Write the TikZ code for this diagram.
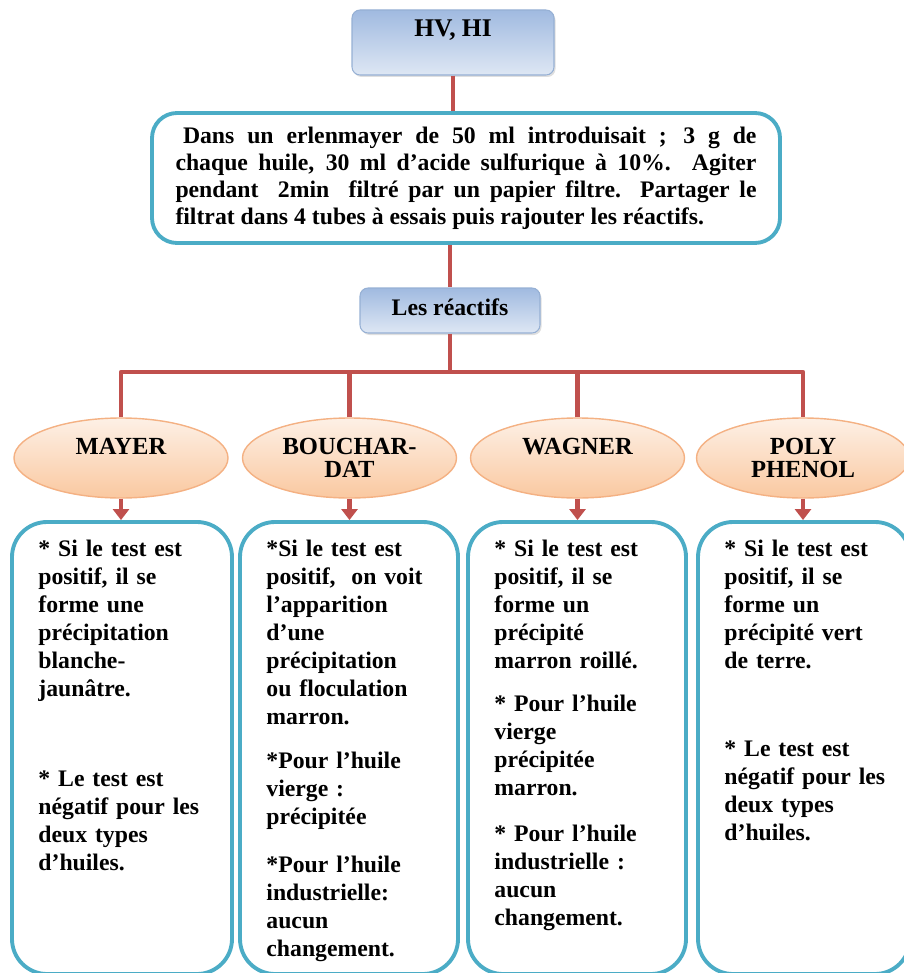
\documentclass[tikz,border=0pt]{standalone}
\usepackage{fontspec}
\setmainfont{Liberation Serif}
\usetikzlibrary{shapes.geometric,arrows.meta,shadows,positioning}

\definecolor{linkred}{RGB}{192,80,77}
\definecolor{boxteal}{RGB}{75,172,198}
\definecolor{bluetop}{RGB}{160,186,224}
\definecolor{bluebot}{RGB}{222,231,244}
\definecolor{blueline}{RGB}{150,176,212}
\definecolor{peachtop}{RGB}{253,240,230}
\definecolor{peachbot}{RGB}{250,200,160}
\definecolor{peachline}{RGB}{244,177,131}

\tikzset{
  link/.style={draw=linkred, line width=2.4pt},
  arrowlink/.style={link, -{Triangle[width=0.32cm,length=0.22cm]}},
  bluebox/.style={rectangle, rounded corners=0.16cm, draw=blueline, line width=0.6pt,
    top color=bluetop, bottom color=bluebot,
    drop shadow={opacity=0.25, shadow xshift=0.03cm, shadow yshift=-0.04cm},
    inner xsep=0pt, inner ysep=0.1cm, text height=0.44cm,
    font=\fontsize{13.5}{16}\selectfont\bfseries},
  reagent/.style={ellipse, draw=peachline, line width=0.8pt, top color=peachtop, bottom color=peachbot,
    inner sep=0pt, minimum width=4.28cm, minimum height=1.6cm, align=center,
    font=\fontsize{14}{13.4}\selectfont\bfseries},
  tealbox/.style={rectangle, draw=boxteal, line width=2.2pt, fill=white, inner sep=0pt},
  result/.style={anchor=north west, inner sep=0pt, text width=3.9cm, align=left,
    font=\fontsize{13.5}{15.9}\selectfont\bfseries}
}

\begin{document}
\begin{tikzpicture}
  \useasboundingbox (0,0) rectangle (18.08,-19.46);

  % Haut : huiles, protocole, reactifs
  \node (hv) [bluebox, minimum width=4.04cm, text depth=0.66cm, font=\fontsize{14.5}{16}\selectfont\bfseries] at (9.06,-0.85) {HV, HI};
  \node (main) [tealbox, rounded corners=0.5cm, minimum width=12.56cm, minimum height=2.6cm,
    text width=11.62cm, align=justify, font=\fontsize{13.5}{15.3}\selectfont\bfseries] at (9.32,-3.56)
    {\hspace*{0.15cm}Dans un erlenmayer de 50 ml introduisait ; 3 g de\linebreak
     chaque huile, 30 ml d’acide sulfurique à 10\%. Agiter\linebreak
     pendant \ 2min \ filtré par un papier filtre. Partager le\linebreak
     filtrat dans 4 tubes à essais puis rajouter les réactifs.};
  \node (reactifs) [bluebox, minimum width=3.6cm, text depth=0.26cm] at (9.0,-6.21) {Les réactifs};
  \coordinate (bar) at (8.94,-7.44);

  % Les quatre reactifs
  \node (mayer) [reagent] at (2.42,-9.16) {MAYER\\\phantom{DAT}};
  \node (bouchardat) [reagent] at (6.99,-9.16) {BOUCHAR-\\DAT};
  \node (wagner) [reagent] at (11.55,-9.16) {WAGNER\\\phantom{DAT}};
  \node (poly) [reagent, minimum width=4.26cm] at (16.06,-9.16) {POLY\\PHENOL};

  % Resultats
  \node (mayerbox) [tealbox, rounded corners=0.7cm, minimum width=4.4cm, minimum height=9.04cm] at (2.44,-14.96) {};
  \node (bouchardatbox) [tealbox, rounded corners=0.7cm, minimum width=4.36cm, minimum height=9.04cm] at (6.98,-14.96) {};
  \node (wagnerbox) [tealbox, rounded corners=0.7cm, minimum width=4.36cm, minimum height=9.04cm] at (11.54,-14.96) {};
  \node (polybox) [tealbox, rounded corners=0.7cm, minimum width=4.24cm, minimum height=9.04cm] at (16.08,-14.96) {};

  \node (mayertext) [result] at ([shift={(0.56,-0.40)}]mayerbox.north west)
    {{*} Si le test est\\ positif, il se\\ forme une\\ précipitation\\ blanche-\\ jaunâtre.\\[1.24cm]
     {*} Le test est\\ négatif pour les\\ deux types\\ d’huiles.};
  \node (bouchardattext) [result] at ([shift={(0.56,-0.40)}]bouchardatbox.north west)
    {{*}Si le test est\\ positif, \ on voit\\ l’apparition\\ d’une\\ précipitation\\ ou floculation\\ marron.\\[0.32cm]
     {*}Pour l’huile\\ vierge :\\ précipitée\\[0.4cm]
     {*}Pour l’huile\\ industrielle:\\ aucun\\ changement.};
  \node (wagnertext) [result] at ([shift={(0.56,-0.40)}]wagnerbox.north west)
    {{*} Si le test est\\ positif, il se\\ forme un\\ précipité\\ marron roillé.\\[0.3cm]
     {*} Pour l’huile\\ vierge\\ précipitée\\ marron.\\[0.36cm]
     {*} Pour l’huile\\ industrielle :\\ aucun\\ changement.};
  \node (polytext) [result] at ([shift={(0.56,-0.40)}]polybox.north west)
    {{*} Si le test est\\ positif, il se\\ forme un\\ précipité vert\\ de terre.\\[1.2cm]
     {*} Le test est\\ négatif pour les\\ deux types\\ d’huiles.};

  % Liaisons
  \draw[link] (hv) -- (hv |- main.north);
  \draw[link] (reactifs |- main.south) -- (reactifs);
  \draw[link] (reactifs) -- (reactifs |- bar);
  \draw[link, line join=round] (mayer.north) -- (mayer.north |- bar) -- (poly.north |- bar) -- (poly.north);
  \draw[link] (bouchardat.north) -- (bouchardat.north |- bar);
  \draw[link] (wagner.north) -- (wagner.north |- bar);

  \draw[arrowlink] (mayer.south) -- (mayer.south |- mayerbox.north);
  \draw[arrowlink] (bouchardat.south) -- (bouchardat.south |- bouchardatbox.north);
  \draw[arrowlink] (wagner.south) -- (wagner.south |- wagnerbox.north);
  \draw[arrowlink] (poly.south) -- (poly.south |- polybox.north);
\end{tikzpicture}
\end{document}
